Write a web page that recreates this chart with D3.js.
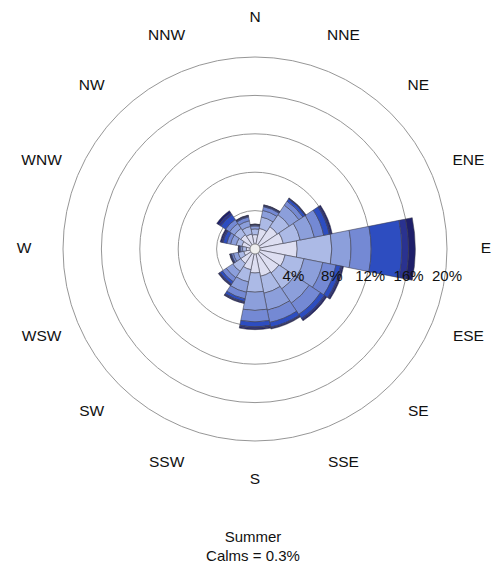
<!DOCTYPE html>
<html>
<head>
<meta charset="utf-8">
<script src="https://cdn.jsdelivr.net/npm/d3@7/dist/d3.min.js"></script>
<style>
  html, body { margin: 0; padding: 0; background: #fff; }
  svg { display: block; font-family: "Liberation Sans", Arial, sans-serif; }
</style>
</head>
<body>
<svg id="rose" width="494" height="573"></svg>
<script>
// Compass sectors, clockwise from north
const directions = ["N", "NNE", "NE", "ENE", "E", "ESE", "SE", "SSE",
                    "S", "SSW", "SW", "WSW", "W", "WNW", "NW", "NNW"];

// Frequency (%) of each wind-speed class per direction, calmest class first
const speedClass1 = [1.5, 2.2, 2.8, 3.0, 4.4, 3.2, 3.0, 2.9, 2.5, 2.2, 1.8, 1.2, 0.9, 1.4, 1.8, 1.6];
const speedClass2 = [0.6, 1.2, 1.5, 1.8, 3.6, 2.0, 2.0, 1.8, 2.0, 1.3, 1.0, 0.6, 0.4, 0.6, 0.8, 0.8];
const speedClass3 = [0.3, 0.7, 1.2, 1.5, 2.0, 2.0, 1.8, 1.8, 1.9, 1.1, 0.8, 0.5, 0.2, 0.6, 0.6, 0.6];
const speedClass4 = [0.1, 0.4, 0.5, 1.0, 2.1, 1.4, 1.4, 1.3, 1.2, 0.7, 0.5, 0.2, 0.1, 0.4, 0.5, 0.4];
const speedClass5 = [0.05, 0.1, 0.3, 0.6, 3.2, 0.5, 0.5, 0.5, 0.5, 0.3, 0.3, 0.1, 0.1, 0.4, 0.6, 0.1];
const speedClass6 = [0.03, 0.05, 0.05, 0.15, 0.7, 0.15, 0.15, 0.1, 0.15, 0.1, 0.1, 0.05, 0.03, 0.15, 0.25, 0.05];
const speedClass7 = [0.02, 0.05, 0.05, 0.15, 0.7, 0.15, 0.15, 0.1, 0.15, 0.1, 0.1, 0.05, 0.02, 0.15, 0.25, 0.05];

const classColors = ["#dddef1", "#acbae6", "#8c9fdb", "#7489d4", "#2d4dc0", "#2a3290", "#1e1f6a"];

const ringTicks = [4, 8, 12, 16, 20];
const ringLabels = ["4%", "8%", "12%", "16%", "20%"];

const season = "Summer";
const calms = "Calms = 0.3%";

// Layout
const cx = 255, cy = 249;
const outerR = 192;
const labelR = 231;

const svg = d3.select("#rose");
const g = svg.append("g").attr("transform", `translate(${cx},${cy})`);

const r = d3.scaleLinear().domain([0, 20]).range([0, outerR]);

const sector = 2 * Math.PI / directions.length;
const angle = d3.scaleBand()
  .domain(directions)
  .range([-sector / 2, 2 * Math.PI - sector / 2])
  .padding(0);

// Grid rings
g.append("g").selectAll("circle")
  .data(ringTicks)
  .join("circle")
  .attr("r", d => r(d))
  .attr("fill", "none")
  .attr("stroke", "#8a8a8a")
  .attr("stroke-width", 0.9);

// Stacked wedges
const classes = [speedClass1, speedClass2, speedClass3, speedClass4, speedClass5, speedClass6, speedClass7];
const rows = directions.map((dir, i) => {
  const o = { dir };
  classes.forEach((c, k) => { o["c" + k] = c[i]; });
  return o;
});
const keys = classes.map((c, k) => "c" + k);
const series = d3.stack().keys(keys)(rows);

const arc = d3.arc()
  .innerRadius(d => r(d[0]))
  .outerRadius(d => r(d[1]))
  .startAngle(d => angle(d.data.dir))
  .endAngle(d => angle(d.data.dir) + angle.bandwidth());

g.append("g").selectAll("g")
  .data(series)
  .join("g")
  .attr("fill", (d, k) => classColors[k])
  .selectAll("path")
  .data(d => d)
  .join("path")
  .attr("d", arc)
  .attr("stroke", "#3a3a4a")
  .attr("stroke-width", 0.55)
  .attr("stroke-linejoin", "round");

// Hub
g.append("circle")
  .attr("r", 5)
  .attr("fill", "#eeeeee")
  .attr("stroke", "#555")
  .attr("stroke-width", 0.6);

// Ring labels
g.append("g").selectAll("text")
  .data(ringTicks)
  .join("text")
  .attr("x", d => r(d))
  .attr("y", 28)
  .attr("text-anchor", "middle")
  .attr("dominant-baseline", "middle")
  .attr("font-size", 15)
  .attr("fill", "#111")
  .text((d, i) => ringLabels[i]);

// Compass labels
g.append("g").selectAll("text")
  .data(directions)
  .join("text")
  .attr("x", d => labelR * Math.sin(angle(d) + angle.bandwidth() / 2))
  .attr("y", d => -labelR * Math.cos(angle(d) + angle.bandwidth() / 2))
  .attr("text-anchor", "middle")
  .attr("dominant-baseline", "middle")
  .attr("font-size", 15.5)
  .attr("fill", "#111")
  .text(d => d);

// Caption
svg.append("text")
  .attr("x", cx - 2).attr("y", 538)
  .attr("text-anchor", "middle")
  .attr("dominant-baseline", "middle")
  .attr("font-size", 15)
  .attr("fill", "#111")
  .text(season);
svg.append("text")
  .attr("x", cx - 2).attr("y", 557)
  .attr("text-anchor", "middle")
  .attr("dominant-baseline", "middle")
  .attr("font-size", 15)
  .attr("fill", "#111")
  .text(calms);
</script>
</body>
</html>
